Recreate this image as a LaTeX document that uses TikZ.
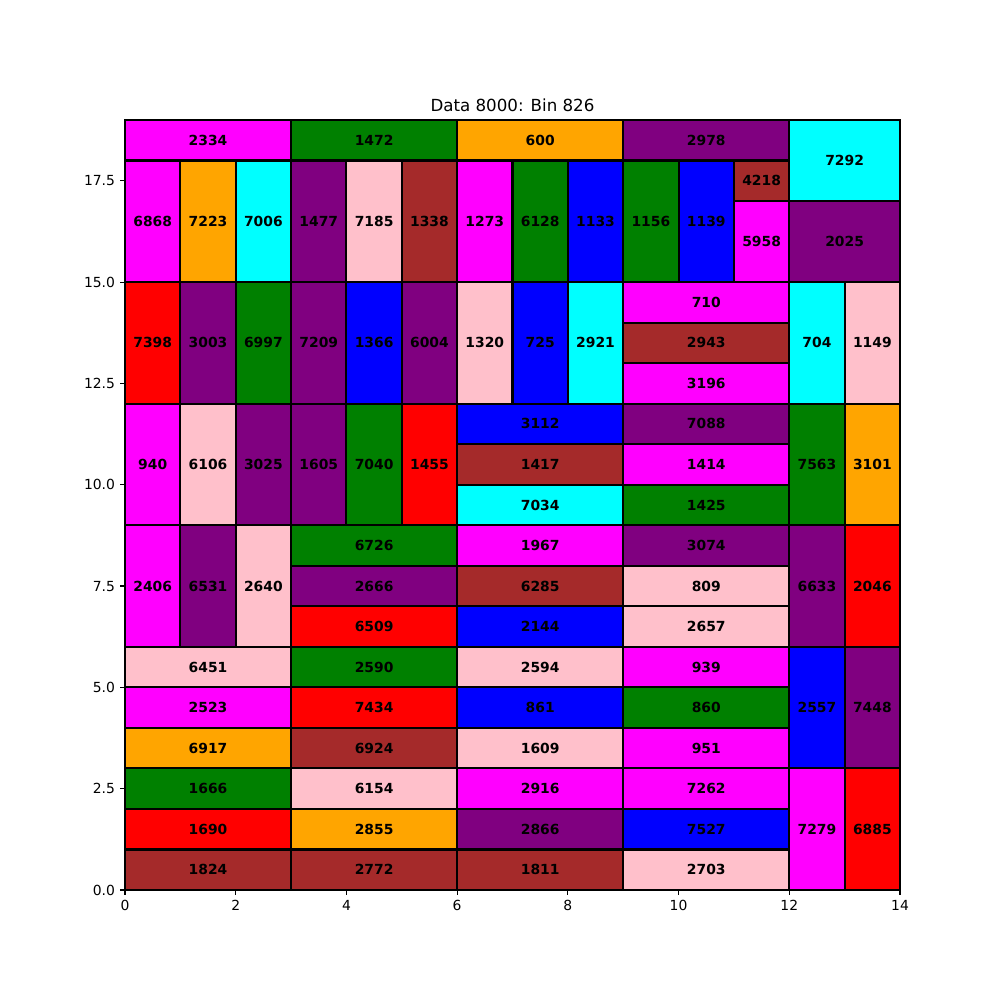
\documentclass[tikz,border=0pt]{standalone}
\usepackage{fontspec}
\setmainfont{DejaVu Sans}
\definecolor{mmagenta}{HTML}{FF00FF}
\definecolor{morange}{HTML}{FFA500}
\definecolor{mcyan}{HTML}{00FFFF}
\definecolor{mgreen}{HTML}{008000}
\definecolor{mpurple}{HTML}{800080}
\definecolor{mpink}{HTML}{FFC0CB}
\definecolor{mbrown}{HTML}{A52A2A}
\definecolor{mblue}{HTML}{0000FF}
\definecolor{mred}{HTML}{FF0000}
\newcommand\bx[6]{\node[binbox, fill=#5, minimum width=#3*39.857pt, minimum height=#4*29.179pt] (n#6) at ({#1+#3/2},{#2+#4/2}) {#6};}
\tikzset{
  binbox/.style={draw=black, line width=1.5pt, inner sep=0pt, outer sep=0pt, font=\fontsize{10}{12}\selectfont\bfseries},
  tickline/.style={line width=0.8pt, black},
  ticklab/.style={font=\fontsize{10}{12}\selectfont, inner sep=0pt}
}
\begin{document}
\begin{tikzpicture}[x=39.857pt, y=29.179pt]
\useasboundingbox[fill=white] (-90pt,-79.2pt) rectangle (630pt,640.8pt);
% top section
\bx{0}{18}{3}{1}{mmagenta}{2334}
\bx{0}{15}{1}{3}{mmagenta}{6868}
\bx{1}{15}{1}{3}{morange}{7223}
\bx{2}{15}{1}{3}{mcyan}{7006}
\bx{3}{18}{3}{1}{mgreen}{1472}
\bx{3}{15}{1}{3}{mpurple}{1477}
\bx{4}{15}{1}{3}{mpink}{7185}
\bx{5}{15}{1}{3}{mbrown}{1338}
\bx{6}{18}{3}{1}{morange}{600}
\bx{6}{15}{1}{3}{mmagenta}{1273}
\bx{7}{15}{1}{3}{mgreen}{6128}
\bx{8}{15}{1}{3}{mblue}{1133}
\bx{9}{18}{3}{1}{mpurple}{2978}
\bx{9}{15}{1}{3}{mgreen}{1156}
\bx{10}{15}{1}{3}{mblue}{1139}
\bx{11}{17}{1}{1}{mbrown}{4218}
\bx{11}{15}{1}{2}{mmagenta}{5958}
\bx{12}{17}{2}{2}{mcyan}{7292}
\bx{12}{15}{2}{2}{mpurple}{2025}
% y 12-15
\bx{0}{12}{1}{3}{mred}{7398}
\bx{1}{12}{1}{3}{mpurple}{3003}
\bx{2}{12}{1}{3}{mgreen}{6997}
\bx{3}{12}{1}{3}{mpurple}{7209}
\bx{4}{12}{1}{3}{mblue}{1366}
\bx{5}{12}{1}{3}{mpurple}{6004}
\bx{6}{12}{1}{3}{mpink}{1320}
\bx{7}{12}{1}{3}{mblue}{725}
\bx{8}{12}{1}{3}{mcyan}{2921}
\bx{9}{14}{3}{1}{mmagenta}{710}
\bx{9}{13}{3}{1}{mbrown}{2943}
\bx{9}{12}{3}{1}{mmagenta}{3196}
\bx{12}{12}{1}{3}{mcyan}{704}
\bx{13}{12}{1}{3}{mpink}{1149}
% y 9-12
\bx{0}{9}{1}{3}{mmagenta}{940}
\bx{1}{9}{1}{3}{mpink}{6106}
\bx{2}{9}{1}{3}{mpurple}{3025}
\bx{3}{9}{1}{3}{mpurple}{1605}
\bx{4}{9}{1}{3}{mgreen}{7040}
\bx{5}{9}{1}{3}{mred}{1455}
\bx{6}{11}{3}{1}{mblue}{3112}
\bx{6}{10}{3}{1}{mbrown}{1417}
\bx{6}{9}{3}{1}{mcyan}{7034}
\bx{9}{11}{3}{1}{mpurple}{7088}
\bx{9}{10}{3}{1}{mmagenta}{1414}
\bx{9}{9}{3}{1}{mgreen}{1425}
\bx{12}{9}{1}{3}{mgreen}{7563}
\bx{13}{9}{1}{3}{morange}{3101}
% y 6-9
\bx{0}{6}{1}{3}{mmagenta}{2406}
\bx{1}{6}{1}{3}{mpurple}{6531}
\bx{2}{6}{1}{3}{mpink}{2640}
\bx{3}{8}{3}{1}{mgreen}{6726}
\bx{3}{7}{3}{1}{mpurple}{2666}
\bx{3}{6}{3}{1}{mred}{6509}
\bx{6}{8}{3}{1}{mmagenta}{1967}
\bx{6}{7}{3}{1}{mbrown}{6285}
\bx{6}{6}{3}{1}{mblue}{2144}
\bx{9}{8}{3}{1}{mpurple}{3074}
\bx{9}{7}{3}{1}{mpink}{809}
\bx{9}{6}{3}{1}{mpink}{2657}
\bx{12}{6}{1}{3}{mpurple}{6633}
\bx{13}{6}{1}{3}{mred}{2046}
% y 0-6
\bx{0}{5}{3}{1}{mpink}{6451}
\bx{0}{4}{3}{1}{mmagenta}{2523}
\bx{0}{3}{3}{1}{morange}{6917}
\bx{0}{2}{3}{1}{mgreen}{1666}
\bx{0}{1}{3}{1}{mred}{1690}
\bx{0}{0}{3}{1}{mbrown}{1824}
\bx{3}{5}{3}{1}{mgreen}{2590}
\bx{3}{4}{3}{1}{mred}{7434}
\bx{3}{3}{3}{1}{mbrown}{6924}
\bx{3}{2}{3}{1}{mpink}{6154}
\bx{3}{1}{3}{1}{morange}{2855}
\bx{3}{0}{3}{1}{mbrown}{2772}
\bx{6}{5}{3}{1}{mpink}{2594}
\bx{6}{4}{3}{1}{mblue}{861}
\bx{6}{3}{3}{1}{mpink}{1609}
\bx{6}{2}{3}{1}{mmagenta}{2916}
\bx{6}{1}{3}{1}{mpurple}{2866}
\bx{6}{0}{3}{1}{mbrown}{1811}
\bx{9}{5}{3}{1}{mmagenta}{939}
\bx{9}{4}{3}{1}{mgreen}{860}
\bx{9}{3}{3}{1}{mmagenta}{951}
\bx{9}{2}{3}{1}{mmagenta}{7262}
\bx{9}{1}{3}{1}{mblue}{7527}
\bx{9}{0}{3}{1}{mpink}{2703}
\bx{12}{3}{1}{3}{mblue}{2557}
\bx{12}{0}{1}{3}{mmagenta}{7279}
\bx{13}{3}{1}{3}{mpurple}{7448}
\bx{13}{0}{1}{3}{mred}{6885}
% frame
\draw[tickline] (0,0) rectangle (14,19);
% x ticks
\foreach \v in {0,2,...,14} {
  \draw[tickline] (\v,0) -- ++(0,-3.5pt);
  \node[ticklab, anchor=north] (xt\v) at ([yshift=-7pt]\v,0) {\v};
}
% y ticks
\foreach \v/\t in {0/0.0,2.5/2.5,5/5.0,7.5/7.5,10/10.0,12.5/12.5,15/15.0,17.5/17.5} {
  \draw[tickline] (0,\v) -- ++(-3.5pt,0);
  \node[ticklab, anchor=east] (yt\t) at ([xshift=-7pt]0,\v) {\t};
}
\node[font=\fontsize{12}{14}\selectfont, anchor=base, inner sep=0pt] (title) at ([yshift=6pt]7,19) {Data 8000: Bin 826};
\end{tikzpicture}
\end{document}
